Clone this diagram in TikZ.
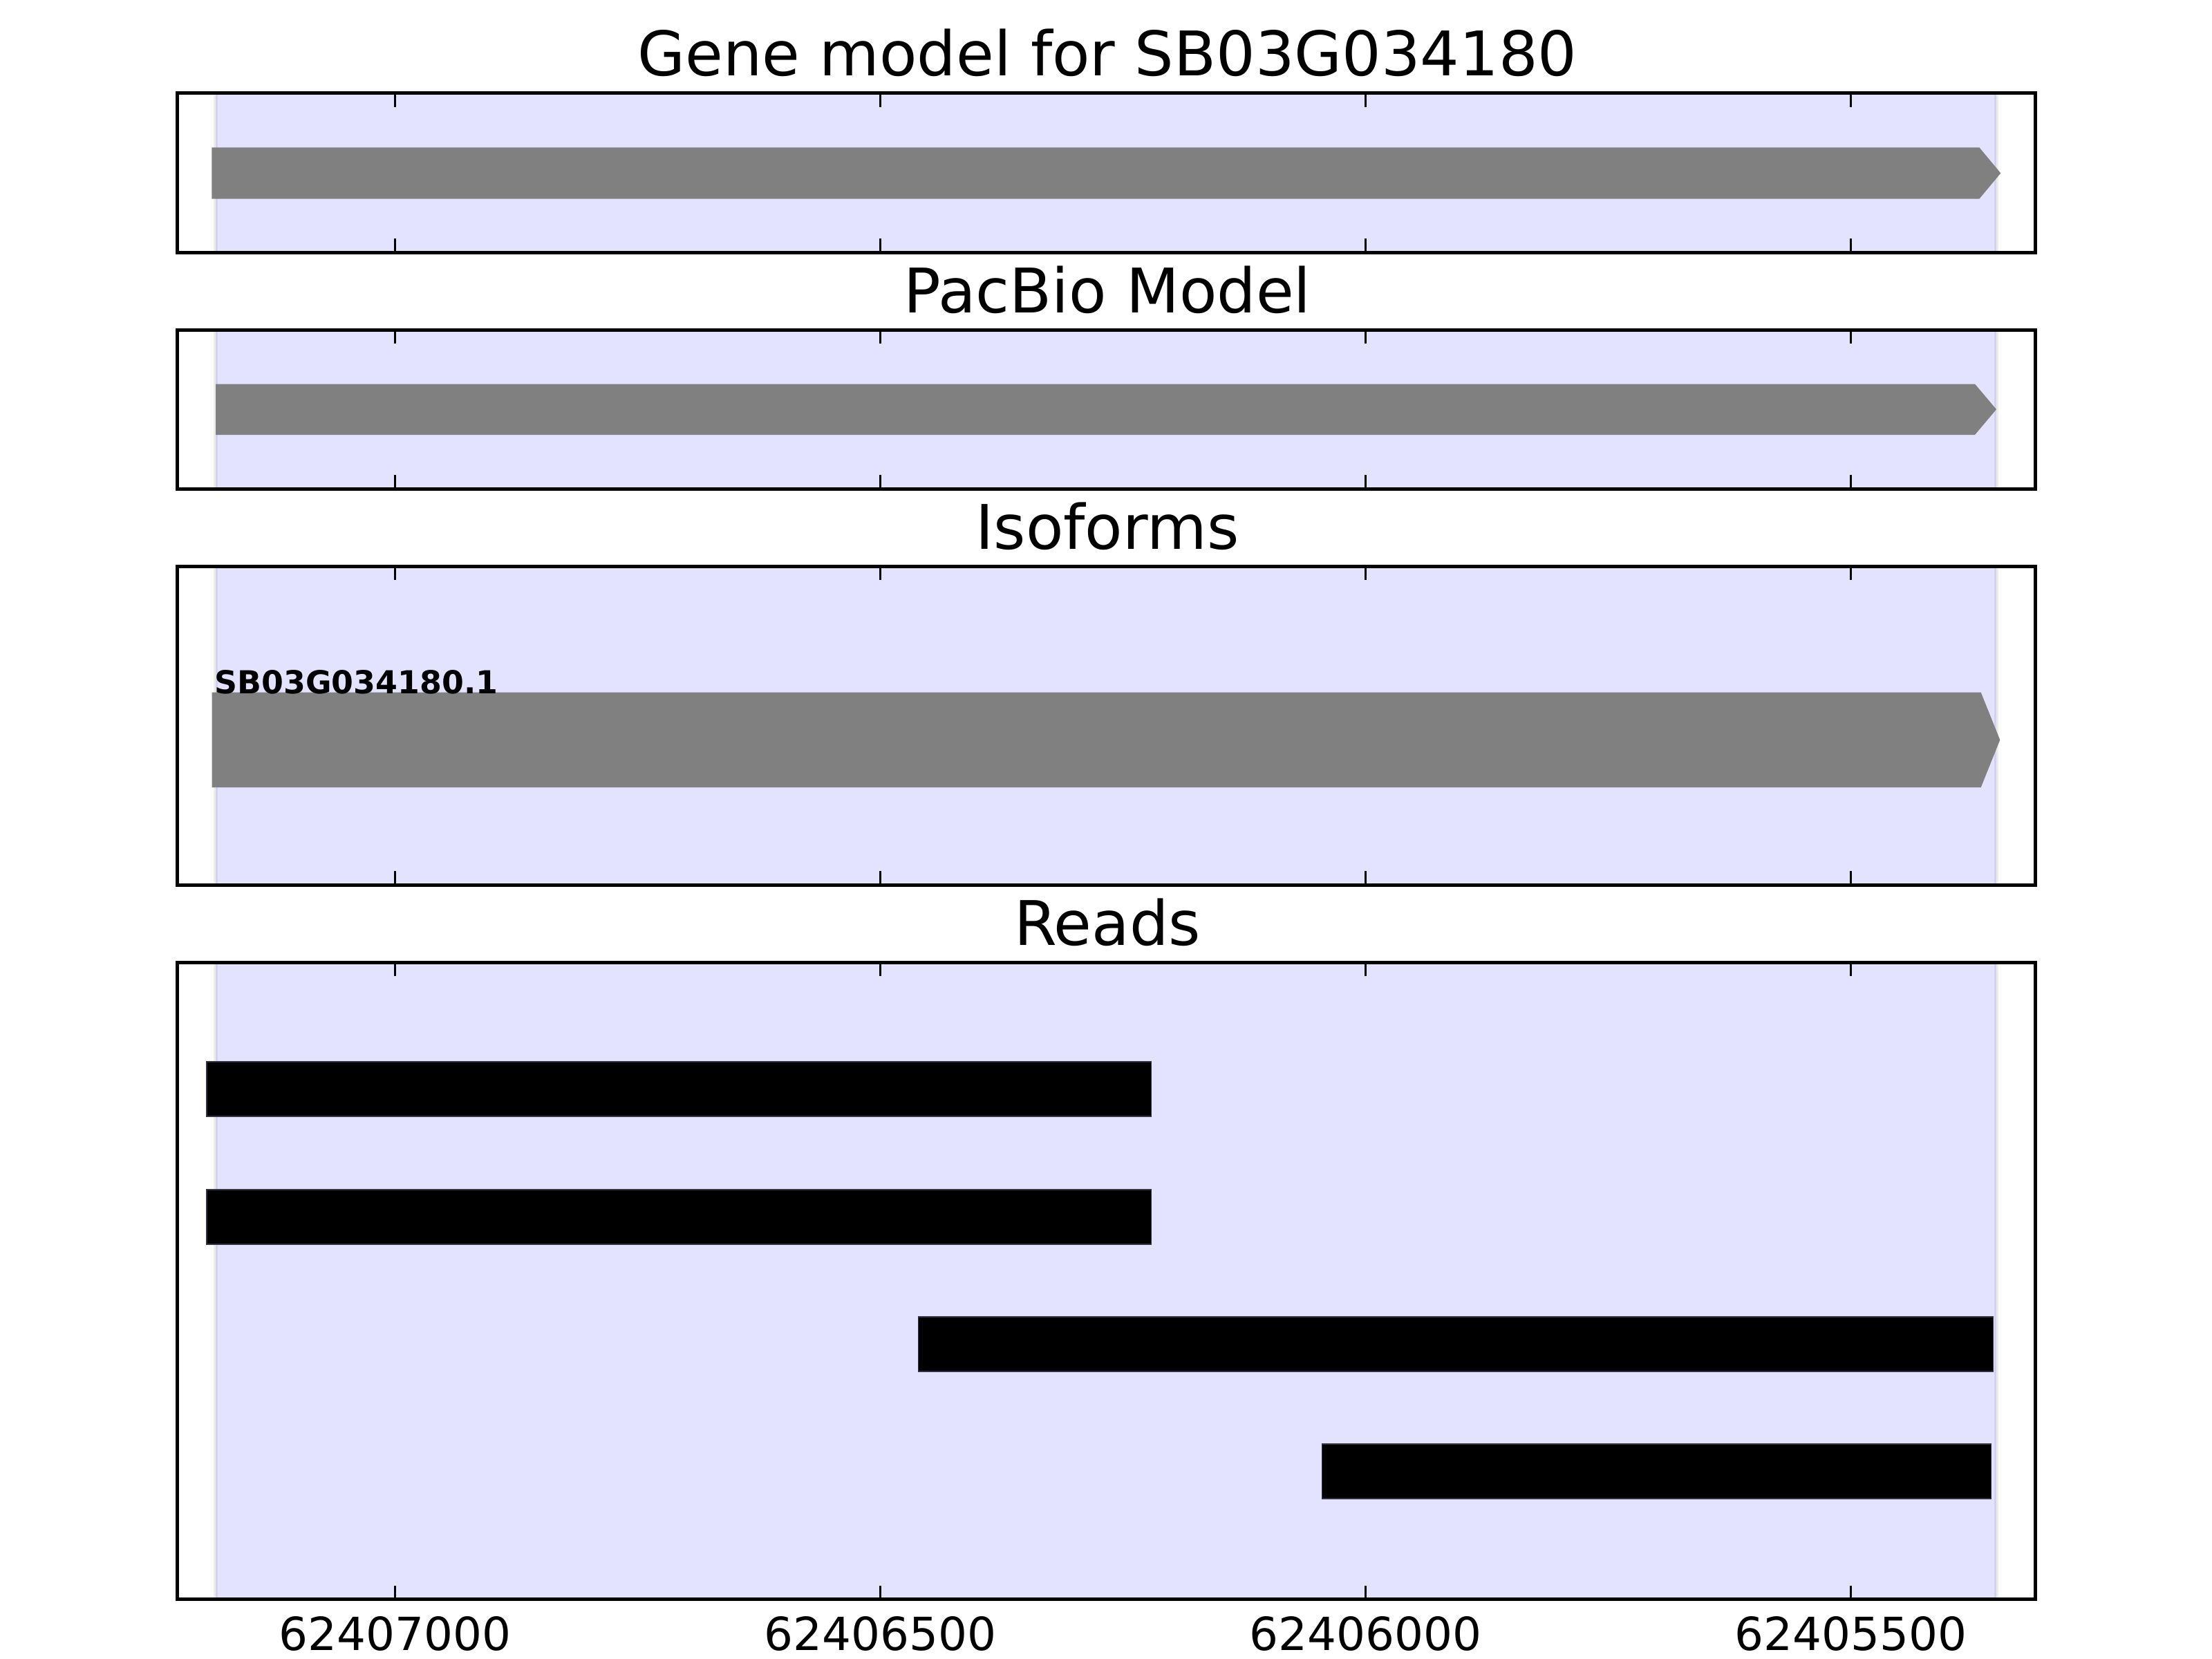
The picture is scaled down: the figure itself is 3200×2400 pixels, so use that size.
\documentclass[tikz,border=0pt]{standalone}
\usepackage{fontspec}
\setmainfont{DejaVu Sans}
\definecolor{shadecol}{RGB}{227,227,255}
\definecolor{genegray}{RGB}{128,128,128}
\definecolor{readedge}{RGB}{50,50,68}
\tikzset{
  panelframe/.style={draw=black, line width=5},
  tickmark/.style={draw=black, line width=3},
  titletext/.style={anchor=base, inner sep=0, font=\fontsize{89}{107}\selectfont},
  ticktext/.style={anchor=base, inner sep=0, font=\fontsize{66}{78}\selectfont},
  genebar/.style={fill=genegray},
  readbar/.style={fill=black, draw=readedge, line width=1.5},
}
\begin{document}
\begin{tikzpicture}[x=1pt,y=-1pt]
\useasboundingbox (0,0) rectangle (3200,2400);
% shaded spans
\foreach \t/\b in {134.7/365.1, 477.0/707.4, 819.3/1280.1, 1392.0/2313.6} {
  \fill[shadecol] (311.7,\t) rectangle (2887.7,\b);
  \draw[black, draw opacity=0.07, line width=6] (311.7,\t) -- (311.7,\b) (2887.7,\t) -- (2887.7,\b);
}
% gene model
\fill[genegray] (306.3,213.3) -- (2863.3,213.3) -- (2894.3,250.5) -- (2863.3,287.7) -- (306.3,287.7) -- cycle;
% pacbio model
\fill[genegray] (312.2,555.5) -- (2857,555.5) -- (2888,592.2) -- (2857,629) -- (312.2,629) -- cycle;
% isoform
\fill[genegray] (306.7,1001.7) -- (2865.7,1001.7) -- (2893.3,1070.4) -- (2865.7,1139) -- (306.7,1139) -- cycle;
\node[anchor=base west, inner sep=0, font=\fontsize{45.8}{55}\selectfont\bfseries] (isolabel) at (310.5,1003.3) {SB03G034180.1};
% reads
\draw[readbar] (299,1536) rectangle (1665.7,1615);
\draw[readbar] (299,1721) rectangle (1665.7,1800);
\draw[readbar] (1328.6,1905) rectangle (2883.7,1984);
\draw[readbar] (1912.3,2089) rectangle (2880.7,2168);
% frames and ticks
\foreach \t/\b in {134.7/365.1, 477.0/707.4, 819.3/1280.1, 1392.0/2313.6} {
  \draw[panelframe] (256,\t) rectangle (2944,\b);
  \foreach \x in {571.3,1273.4,1975.5,2677.6} {
    \draw[tickmark] (\x,\t) -- (\x,\t+20);
    \draw[tickmark] (\x,\b) -- (\x,\b-20);
  }
}
% titles
\node[titletext] (title1) at (1602,109.3) {Gene model for SB03G034180};
\node[titletext] (title2) at (1602,452.0) {PacBio Model};
\node[titletext] (title3) at (1602,794.3) {Isoforms};
\node[titletext] (title4) at (1602,1367.0) {Reads};
% tick labels
\node[ticktext] (lab1) at (571.3,2387.7) {62407000};
\node[ticktext] (lab2) at (1273.4,2387.7) {62406500};
\node[ticktext] (lab3) at (1975.5,2387.7) {62406000};
\node[ticktext] (lab4) at (2677.6,2387.7) {62405500};
\end{tikzpicture}
\end{document}
